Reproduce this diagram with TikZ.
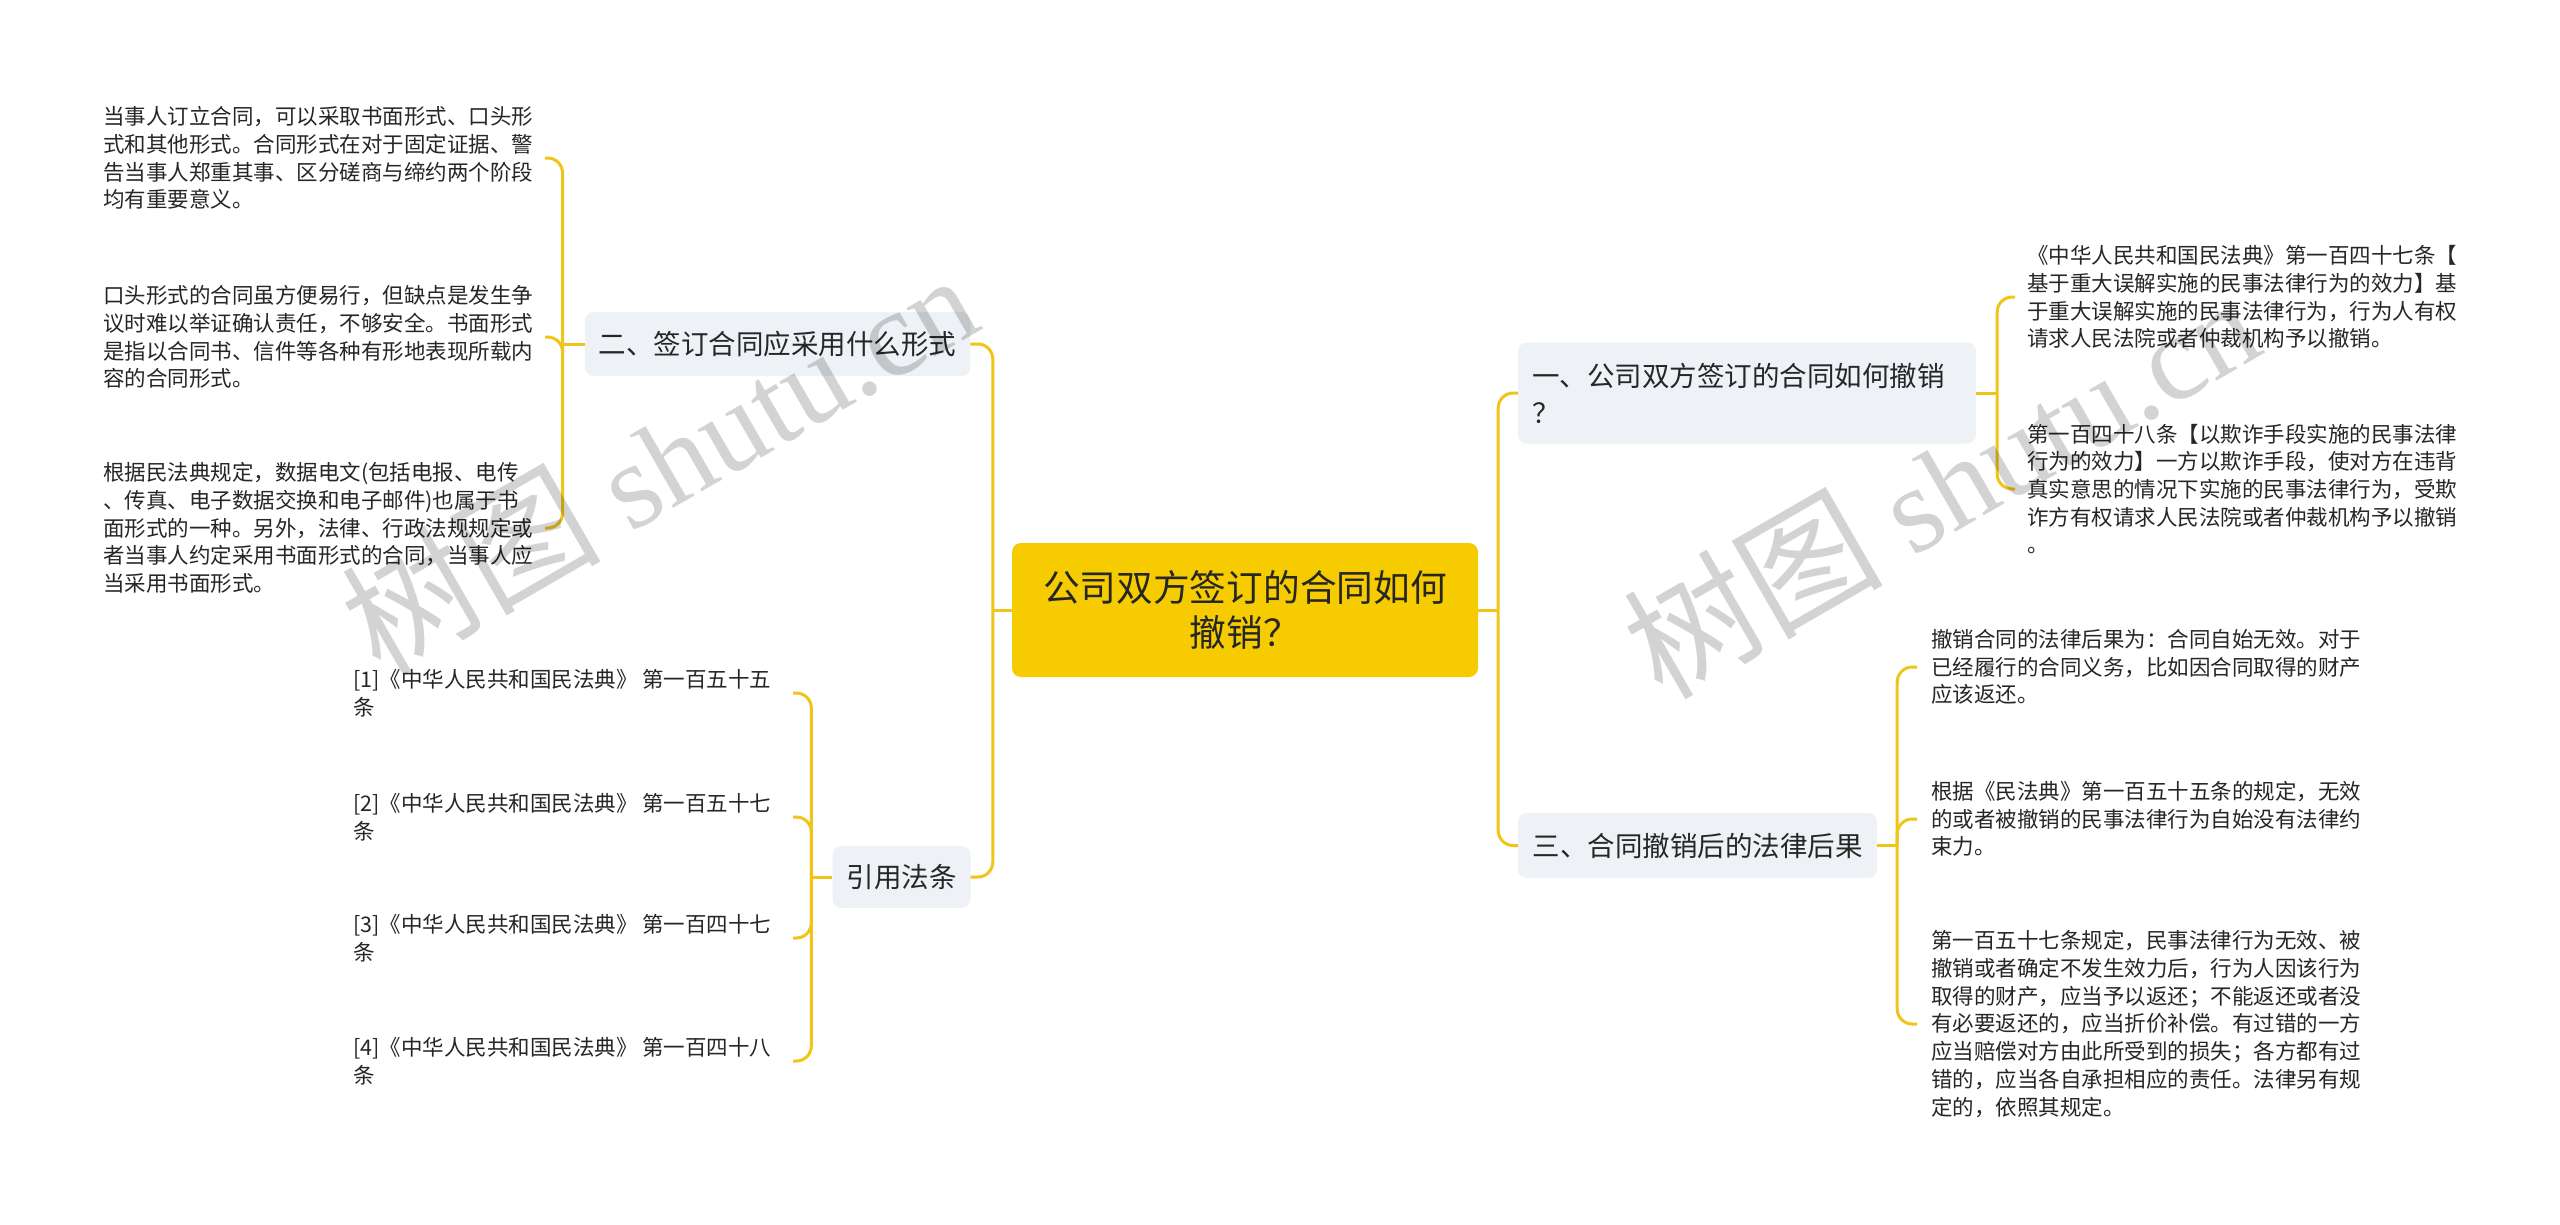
\documentclass[tikz,border=0pt]{standalone}
\usepackage{fontspec}
\setmainfont{Noto Sans CJK SC}
\newfontfamily\wmlatin{Liberation Serif}
\newfontfamily\wmcjk{Noto Sans CJK SC}
\definecolor{linecol}{HTML}{F0C419}
\definecolor{rootfill}{HTML}{F6CC00}
\definecolor{subfill}{HTML}{EEF1F5}
\definecolor{txt}{HTML}{262626}
\definecolor{wm}{HTML}{D3D3D3}
\begin{document}
\begin{tikzpicture}[x=1pt,y=-1pt,
  conn/.style={draw=linecol,line width=3pt,rounded corners=15pt},
  rootbox/.style={fill=rootfill,rounded corners=9pt,minimum width=466pt,minimum height=134pt,align=center,text=txt,font=\fontsize{36.7}{45}\selectfont,inner sep=0pt},
  subbox/.style={fill=subfill,rounded corners=9pt,text=txt,font=\fontsize{27.5}{37}\selectfont,inner xsep=14pt,inner ysep=0pt},
  leaf/.style={anchor=west,align=left,text=txt,font=\fontsize{21.5}{27.7}\selectfont,inner sep=0pt},
  watermark/.style={text=wm,rotate=30,anchor=base west,inner sep=0pt,font=\fontsize{130}{130}\selectfont}
]
\useasboundingbox (0,0) rectangle (2560,1224);
\fill[white] (0,0) rectangle (2560,1224);

% root
\node[rootbox] (root) at (1245,610) {公司双方签订的合同如何\\撤销？};

% main branches
\node[subbox,minimum width=385pt,minimum height=64pt] (n2) at (777.5,344) {二、签订合同应采用什么形式};
\node[subbox,minimum width=137pt,minimum height=62pt] (n4) at (901.5,877) {引用法条};
\node[subbox,text width=430pt,align=left,minimum height=101pt] (n1) at (1747,393) {一、公司双方签订的合同如何撤销\\？};
\node[subbox,minimum width=359pt,minimum height=65pt] (n3) at (1697.5,845.5) {三、合同撤销后的法律后果};

% leaves of n2
\node[leaf] (l1) at (103,158) {当事人订立合同，可以采取书面形式、口头形\\式和其他形式。合同形式在对于固定证据、警\\告当事人郑重其事、区分磋商与缔约两个阶段\\均有重要意义。};
\node[leaf] (l2) at (103,337) {口头形式的合同虽方便易行，但缺点是发生争\\议时难以举证确认责任，不够安全。书面形式\\是指以合同书、信件等各种有形地表现所载内\\容的合同形式。};
\node[leaf] (l3) at (103,528) {根据民法典规定，数据电文(包括电报、电传\\、传真、电子数据交换和电子邮件)也属于书\\面形式的一种。另外，法律、行政法规规定或\\者当事人约定采用书面形式的合同，当事人应\\当采用书面形式。};

% leaves of n4
\node[leaf] (c1) at (353,693) {[1]《中华人民共和国民法典》 第一百五十五\\条};
\node[leaf] (c2) at (353,817) {[2]《中华人民共和国民法典》 第一百五十七\\条};
\node[leaf] (c3) at (353,938) {[3]《中华人民共和国民法典》 第一百四十七\\条};
\node[leaf] (c4) at (353,1061) {[4]《中华人民共和国民法典》 第一百四十八\\条};

% leaves of n1
\node[leaf] (r1) at (2027,297) {《中华人民共和国民法典》第一百四十七条【\\基于重大误解实施的民事法律行为的效力】基\\于重大误解实施的民事法律行为，行为人有权\\请求人民法院或者仲裁机构予以撤销。};
\node[leaf] (r2) at (2027,489) {第一百四十八条【以欺诈手段实施的民事法律\\行为的效力】一方以欺诈手段，使对方在违背\\真实意思的情况下实施的民事法律行为，受欺\\诈方有权请求人民法院或者仲裁机构予以撤销\\。};

% leaves of n3
\node[leaf] (b1) at (1931,667) {撤销合同的法律后果为：合同自始无效。对于\\已经履行的合同义务，比如因合同取得的财产\\应该返还。};
\node[leaf] (b2) at (1931,819) {根据《民法典》第一百五十五条的规定，无效\\的或者被撤销的民事法律行为自始没有法律约\\束力。};
\node[leaf] (b3) at (1931,1024) {第一百五十七条规定，民事法律行为无效、被\\撤销或者确定不发生效力后，行为人因该行为\\取得的财产，应当予以返还；不能返还或者没\\有必要返还的，应当折价补偿。有过错的一方\\应当赔偿对方由此所受到的损失；各方都有过\\错的，应当各自承担相应的责任。法律另有规\\定的，依照其规定。};

% end points
\coordinate (leftEnd) at (545,0);
\coordinate (citeEnd) at (793,0);
\coordinate (rtEnd) at (2015,0);
\coordinate (rbEnd) at (1917,0);

% root connectors
\draw[conn] (root.west) -- ++(-19,0) coordinate (tl);
\draw[conn] (tl) |- (n2.east);
\draw[conn] (tl) |- (n4.east);
\draw[conn] (root.east) -- ++(20,0) coordinate (tr);
\draw[conn] (tr) |- (n1.west);
\draw[conn] (tr) |- (n3.west);

% n2 connectors
\draw[conn] (n2.west) -- ++(-22,0) coordinate (t2);
\draw[conn] (t2) |- (l1 -| leftEnd);
\draw[conn] (t2) |- (l2 -| leftEnd);
\draw[conn] (t2) |- (l3 -| leftEnd);

% n4 connectors
\draw[conn] (n4.west) -- ++(-21,0) coordinate (t4);
\draw[conn] (t4) |- (c1 -| citeEnd);
\draw[conn] (t4) |- (c2 -| citeEnd);
\draw[conn] (t4) |- (c3 -| citeEnd);
\draw[conn] (t4) |- (c4 -| citeEnd);

% n1 connectors
\draw[conn] (n1.east) -- ++(21,0) coordinate (t1);
\draw[conn] (t1) |- (r1 -| rtEnd);
\draw[conn] (t1) |- (r2 -| rtEnd);

% n3 connectors
\draw[conn] (n3.east) -- ++(20,0) coordinate (t3);
\draw[conn] (t3) |- (b1 -| rbEnd);
\draw[conn] (t3) |- (b2 -| rbEnd);
\draw[conn] (t3) |- (b3 -| rbEnd);

% watermarks, laid over the picture
\begin{scope}[blend mode=multiply]
\node[watermark] (wm1) at (380,678) {\wmcjk 树图 \wmlatin\fontsize{122}{122}\selectfont shutu.cn};
\node[watermark] (wm2) at (1662,702) {\wmcjk 树图 \wmlatin\fontsize{122}{122}\selectfont shutu.cn};
\end{scope}
\end{tikzpicture}
\end{document}
